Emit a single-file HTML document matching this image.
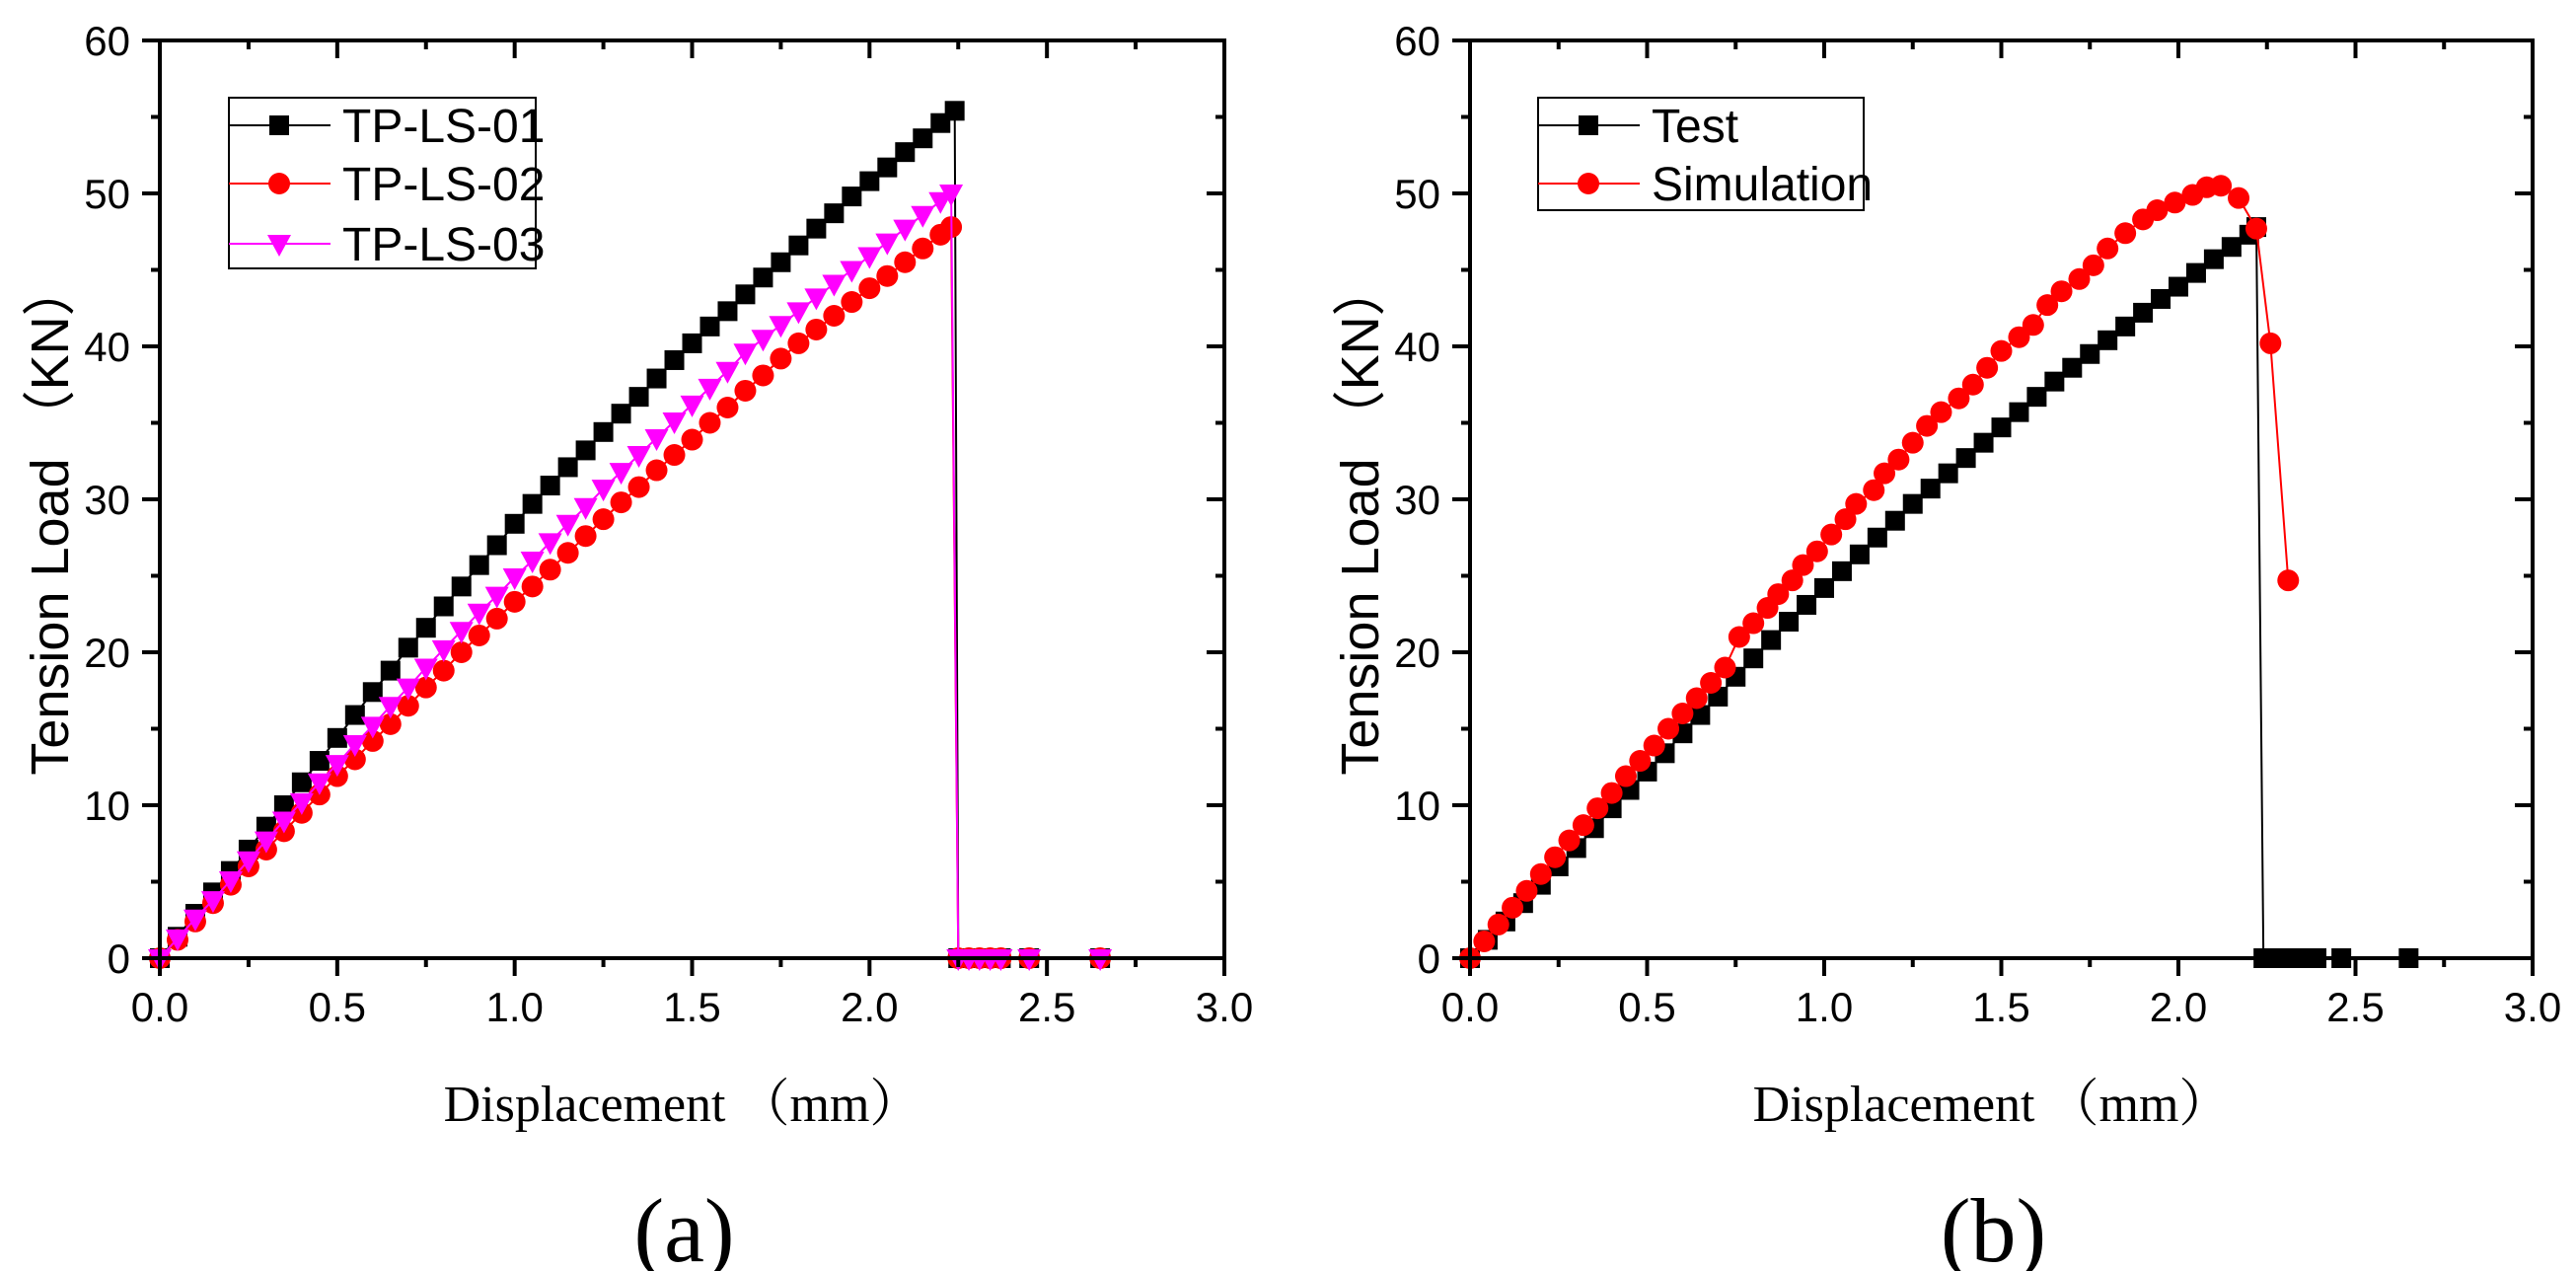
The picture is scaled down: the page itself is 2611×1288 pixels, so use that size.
<!DOCTYPE html>
<html><head><meta charset="utf-8"><style>
html,body{margin:0;padding:0;background:#fff;}
svg{display:block;}
</style></head><body>
<svg id="fig" width="2611" height="1288" viewBox="0 0 2611 1288" xmlns="http://www.w3.org/2000/svg" font-family="Liberation Sans, Arial, sans-serif">
<rect width="2611" height="1288" fill="#fff"/>
<g id="pa"></g>
<g id="pb"></g>
</svg>
<script>
const xTicks = [0.0,0.5,1.0,1.5,2.0,2.5,3.0];
const xTickLabels = ["0.0","0.5","1.0","1.5","2.0","2.5","3.0"];
const yTicks = [0,10,20,30,40,50,60];
const yTickLabels = ["0","10","20","30","40","50","60"];

const a01x = [0,.05,.1,.15,.2,.25,.3,.35,.4,.45,.5,.55,.6,.65,.7,.75,.8,.85,.9,.95,1.0,1.05,1.1,1.15,1.2,1.25,1.3,1.35,1.4,1.45,1.5,1.55,1.6,1.65,1.7,1.75,1.8,1.85,1.9,1.95,2.0,2.05,2.1,2.15,2.2,2.24,2.25,2.28,2.31,2.34,2.37,2.45,2.65];
const a01y = [0,1.4,2.9,4.3,5.7,7.1,8.6,10,11.5,12.9,14.4,15.9,17.4,18.8,20.3,21.6,23.0,24.3,25.7,27.0,28.4,29.7,30.9,32.1,33.2,34.4,35.6,36.7,37.9,39.1,40.2,41.3,42.3,43.4,44.5,45.5,46.6,47.7,48.7,49.8,50.8,51.7,52.7,53.6,54.6,55.4,0,0,0,0,0,0,0];
const a02x = [0,.05,.1,.15,.2,.25,.3,.35,.4,.45,.5,.55,.6,.65,.7,.75,.8,.85,.9,.95,1.0,1.05,1.1,1.15,1.2,1.25,1.3,1.35,1.4,1.45,1.5,1.55,1.6,1.65,1.7,1.75,1.8,1.85,1.9,1.95,2.0,2.05,2.1,2.15,2.2,2.23,2.25,2.28,2.31,2.34,2.37,2.45,2.65];
const a02y = [0,1.2,2.4,3.6,4.8,6.0,7.1,8.3,9.5,10.7,11.9,13.0,14.2,15.3,16.5,17.7,18.8,20.0,21.1,22.2,23.3,24.3,25.4,26.5,27.6,28.7,29.8,30.8,31.9,32.9,33.9,35.0,36.0,37.1,38.1,39.2,40.2,41.1,42.0,42.9,43.8,44.6,45.5,46.4,47.3,47.8,0,0,0,0,0,0,0];
const a03x = [0,.05,.1,.15,.2,.25,.3,.35,.4,.45,.5,.55,.6,.65,.7,.75,.8,.85,.9,.95,1.0,1.05,1.1,1.15,1.2,1.25,1.3,1.35,1.4,1.45,1.5,1.55,1.6,1.65,1.7,1.75,1.8,1.85,1.9,1.95,2.0,2.05,2.1,2.15,2.2,2.23,2.25,2.28,2.31,2.34,2.37,2.45,2.65];
const a03y = [0,1.3,2.6,3.8,5.1,6.4,7.7,9.0,10.2,11.5,12.7,14.0,15.2,16.5,17.7,19.0,20.2,21.4,22.6,23.7,24.9,26.0,27.2,28.4,29.5,30.7,31.8,32.9,34.0,35.1,36.2,37.3,38.4,39.6,40.5,41.4,42.3,43.2,44.1,45.0,45.9,46.8,47.7,48.6,49.5,50.0,0,0,0,0,0,0,0];

const bTestX = [0,.05,.1,.15,.2,.25,.3,.35,.4,.45,.5,.55,.6,.65,.7,.75,.8,.85,.9,.95,1.0,1.05,1.1,1.15,1.2,1.25,1.3,1.35,1.4,1.45,1.5,1.55,1.6,1.65,1.7,1.75,1.8,1.85,1.9,1.95,2.0,2.05,2.1,2.15,2.2,2.22,2.24,2.27,2.30,2.33,2.36,2.39,2.46,2.65];
const bTestY = [0,1.2,2.4,3.6,4.8,6.0,7.2,8.5,9.8,11.0,12.2,13.4,14.7,15.9,17.1,18.4,19.6,20.8,22.0,23.1,24.2,25.3,26.4,27.5,28.6,29.7,30.7,31.7,32.7,33.7,34.7,35.7,36.7,37.7,38.6,39.5,40.4,41.3,42.2,43.1,43.9,44.8,45.7,46.5,47.3,47.8,0,0,0,0,0,0,0,0];
const bSimX = [0,.04,.08,.12,.16,.2,.24,.28,.32,.36,.4,.44,.48,.52,.56,.6,.64,.68,.72,.76,.80,.84,.87,.91,.94,.98,1.02,1.06,1.09,1.14,1.17,1.21,1.25,1.29,1.33,1.38,1.42,1.46,1.50,1.55,1.59,1.63,1.67,1.72,1.76,1.80,1.85,1.90,1.94,1.99,2.04,2.08,2.12,2.17,2.22,2.26,2.31];
const bSimY = [0,1.1,2.2,3.3,4.4,5.5,6.6,7.7,8.7,9.8,10.8,11.9,12.9,13.9,15.0,16.0,17.0,18.0,19.0,21.0,21.9,22.9,23.8,24.7,25.7,26.6,27.7,28.7,29.7,30.6,31.7,32.6,33.7,34.8,35.7,36.6,37.5,38.6,39.7,40.6,41.4,42.7,43.6,44.4,45.3,46.4,47.4,48.3,48.9,49.4,49.9,50.4,50.5,49.7,47.7,40.2,24.7];

const NS = "http://www.w3.org/2000/svg";
function mk(parent, tag, attrs){const e=document.createElementNS(NS,tag);for(const k in attrs)e.setAttribute(k,attrs[k]);parent.appendChild(e);return e;}

function panel(g, X0, X1, Y0, Y1, letter, series, legend){
  const sx = v => X0 + (v/3)*(X1-X0);
  const sy = v => Y0 - (v/60)*(Y0-Y1);
  series.forEach(s=>{
    const sg = mk(g,'g',{});
    
    
    let d='';
    s.x.forEach((v,i)=>{d+=(i?'L':'M')+sx(v).toFixed(1)+' '+sy(s.y[i]).toFixed(1);});
    mk(sg,'path',{d:d,fill:'none',stroke:s.color,'stroke-width':2});
    s.x.forEach((v,i)=>{
      const m = marker(sg, s.shape, sx(v), sy(s.y[i]), s.color);
      
      
    });
  });
  const ax = mk(g,'rect',{x:X0,y:Y1,width:X1-X0,height:Y0-Y1,fill:'none',stroke:'#000','stroke-width':4});
  
  
  for(let i=0;i<=12;i++){
    const v=i*0.25, x=sx(v), maj=i%2==0;
    mk(g,'line',{x1:x,y1:Y0,x2:x,y2:Y0+(maj?18:9),stroke:'#000','stroke-width':4});
    mk(g,'line',{x1:x,y1:Y1,x2:x,y2:Y1+(maj?18:9),stroke:'#000','stroke-width':4});
  }
  for(let i=0;i<=12;i++){
    const v=i*5, y=sy(v), maj=i%2==0;
    mk(g,'line',{x1:X0,y1:y,x2:X0-(maj?18:9),y2:y,stroke:'#000','stroke-width':4});
    mk(g,'line',{x1:X1,y1:y,x2:X1-(maj?18:9),y2:y,stroke:'#000','stroke-width':4});
  }
  xTicks.forEach((v,i)=>{
    const t=mk(g,'text',{x:sx(v),y:Y0+64,'font-size':42,'text-anchor':'middle'});
    t.textContent=xTickLabels[i];
    
    
  });
  yTicks.forEach((v,i)=>{
    const t=mk(g,'text',{x:X0-30,y:sy(v)+15,'font-size':42,'text-anchor':'end'});
    t.textContent=yTickLabels[i];
    
    
  });
  const yt=mk(g,'text',{x:0,y:0,'font-size':54,'text-anchor':'middle',transform:`translate(${X0-93},${(Y0+Y1)/2+20}) rotate(-90)`});
  yt.textContent='Tension Load \uFF08KN\uFF09';
  yt.setAttribute('font-family','Liberation Sans, Noto Sans CJK SC, sans-serif');
  
  
  const xt=mk(g,'text',{x:(X0+X1)/2-10,y:Y0+165,'font-size':52,'text-anchor':'middle','font-family':'Liberation Serif, Noto Serif CJK SC, serif'});
  xt.textContent='Displacement \uFF08mm\uFF09';
  
  
  const lt=mk(g,'text',{x:(X0+X1)/2-8,y:Y0+307,'font-size':92,'text-anchor':'middle','font-family':'Liberation Serif, serif'});
  lt.textContent=letter;
  
  
  const lg=mk(g,'g',{});
  
  
  mk(lg,'rect',{x:legend.x,y:99,width:legend.w,height:legend.h,fill:'#fff',stroke:'#000','stroke-width':2});
  series.forEach((s,i)=>{
    const ry=[127,186,247][i];
    const e=mk(lg,'g',{});
    
    
    mk(e,'line',{x1:legend.x,y1:ry,x2:legend.x+103,y2:ry,stroke:s.color,'stroke-width':2});
    marker(e,s.shape,legend.x+51,ry,s.color);
    const t=mk(e,'text',{x:legend.x+115,y:ry+17,'font-size':48});
    t.textContent=s.label;
  });
}
function marker(p,shape,x,y,c){
  if(shape==='sq') return mk(p,'rect',{x:x-10,y:y-10,width:20,height:20,fill:c});
  if(shape==='ci') return mk(p,'circle',{cx:x,cy:y,r:11,fill:c});
  return mk(p,'path',{d:`M${x-12} ${y-9}L${x+12} ${y-9}L${x} ${y+13}Z`,fill:c});
}
panel(document.getElementById('pa'),162,1241,971,41,'(a)',[
  {name:'series-tp-ls-01',label:'TP-LS-01',x:a01x,y:a01y,color:'#000',shape:'sq'},
  {name:'series-tp-ls-02',label:'TP-LS-02',x:a02x,y:a02y,color:'#ff0000',shape:'ci'},
  {name:'series-tp-ls-03',label:'TP-LS-03',x:a03x,y:a03y,color:'#ff00ff',shape:'tri'}
],{x:232,w:311,h:173});
panel(document.getElementById('pb'),1490,2567,971,41,'(b)',[
  {name:'series-test',label:'Test',x:bTestX,y:bTestY,color:'#000',shape:'sq'},
  {name:'series-simulation',label:'Simulation',x:bSimX,y:bSimY,color:'#ff0000',shape:'ci'}
],{x:1559,w:330,h:114});
</script>
</body></html>
